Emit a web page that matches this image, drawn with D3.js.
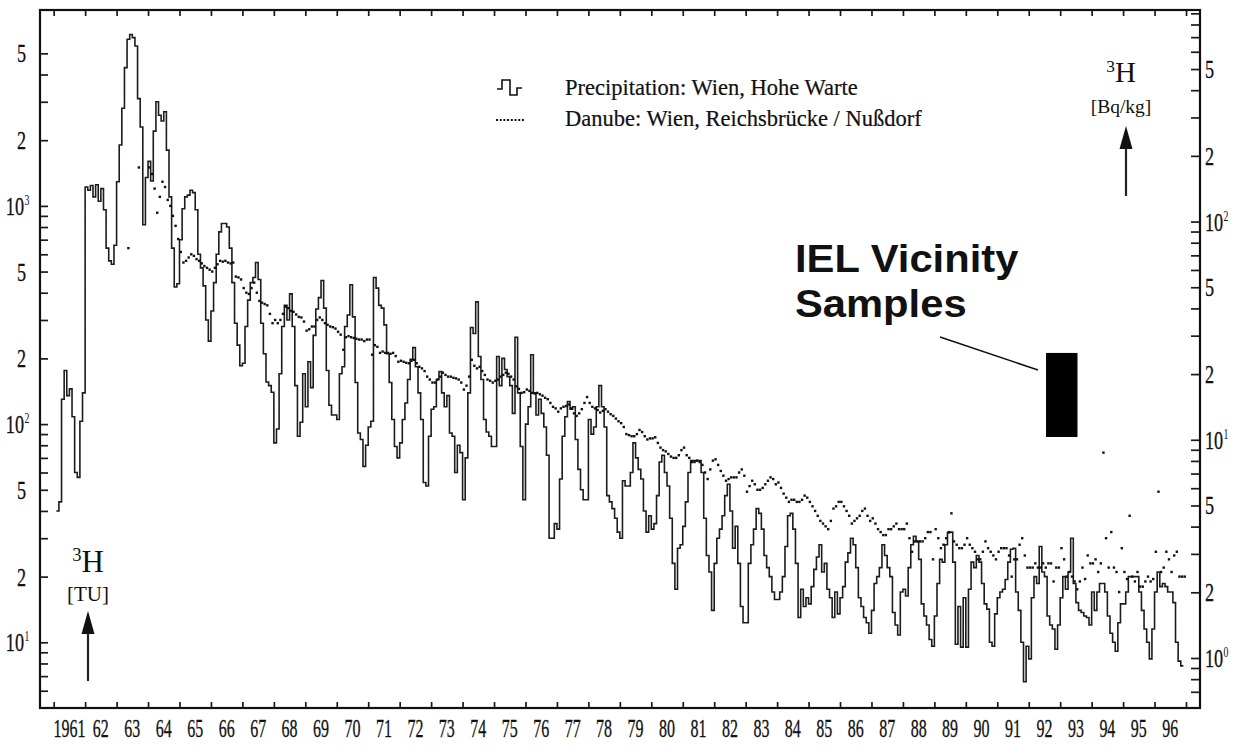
<!DOCTYPE html>
<html><head><meta charset="utf-8">
<script src="https://cdn.jsdelivr.net/npm/d3@7"></script>
<style>
html,body{margin:0;padding:0;background:#fff;}
svg{display:block;}
text{font-family:"Liberation Serif","Times New Roman",serif;fill:#111;}
</style></head><body>
<svg id="chart" width="1237" height="747"></svg>
<script>
// ---------- tick labels ----------
const yearLabels = ["1961","62","63","64","65","66","67","68","69","70","71","72","73","74","75","76","77","78","79","80","81","82","83","84","85","86","87","88","89","90","91","92","93","94","95","96"];
const firstYear = 1961;
const leftLabelValues = [5000, 2000, 1000, 500, 200, 100, 50, 20, 10];
const leftLabelTexts  = [["5",""],["2",""],["10","3"],["5",""],["2",""],["10","2"],["5",""],["2",""],["10","1"]];
const rightLabelValues = [500, 200, 100, 50, 20, 10, 5, 2, 1];
const rightLabelTexts  = [["5",""],["2",""],["10","2"],["5",""],["2",""],["10","1"],["5",""],["2",""],["10","0"]];
const tuToBq = 0.118;

// ---------- series: Precipitation Wien, Hohe Warte (monthly TU, from Feb 1961) ----------
const precipStartYear = 1961, precipStartMonth = 1;
const precipTU = [
  40, 44, 130, 176, 135, 145, 108, 60, 57, 103, 139,                 // 1961 Feb-Dec
  1220, 1180, 1240, 1100, 1250, 1050, 1200, 960, 640, 560, 540, 660,  // 1962
  1290, 1900, 2800, 4300, 5800, 6100, 5900, 5400, 3100, 2300, 820, 1350, // 1963
  1600, 1300, 2200, 3000, 2600, 2450, 2700, 1800, 1100, 640, 425, 440, // 1964
  700, 970, 1100, 1120, 1180, 1150, 960, 600, 520, 430, 300, 240,     // 1965
  330, 445, 600, 760, 830, 830, 800, 640, 445, 290, 230, 185,         // 1966
  190, 280, 370, 445, 470, 550, 460, 290, 210, 156, 150, 140,         // 1967
  82, 95, 170, 280, 350, 300, 395, 280, 150, 88, 102, 170,            // 1968
  120, 193, 147, 255, 337, 380, 455, 340, 176, 122, 110, 110,         // 1969
  105, 170, 183, 280, 316, 435, 310, 155, 91, 85, 64, 80,             // 1970
  97, 103, 470, 420, 350, 340, 285, 210, 155, 105, 79, 70,            // 1971
  82, 105, 125, 160, 198, 224, 183, 139, 105, 54, 52, 88,             // 1972
  117, 120, 160, 174, 139, 120, 135, 91, 88, 60, 80, 74,              // 1973
  45, 70, 139, 277, 260, 363, 204, 160, 105, 92, 88, 79,              // 1974
  79, 204, 150, 200, 178, 165, 150, 112, 250, 139, 79, 45,            // 1975
  100, 120, 208, 139, 110, 130, 112, 97, 72, 30, 30, 35,              // 1976
  33, 56, 88, 108, 127, 117, 120, 85, 62, 50, 45, 45,                 // 1977
  105, 90, 97, 120, 150, 120, 97, 47, 44, 41, 37, 32,                 // 1978
  30, 55, 52, 52, 60, 82, 70, 62, 56, 40, 32, 38,                     // 1979
  33, 35, 47, 67, 72, 60, 52, 37, 23, 17.5, 27, 28,                   // 1980
  34, 44, 60, 68, 68, 68, 68, 60, 37, 25, 21, 14,                     // 1981
  23, 30, 33, 38, 47, 53, 40, 27, 34, 23, 14.6, 12.3,                 // 1982
  12.3, 23, 28, 33, 41, 39, 33, 25, 22, 20, 17, 15.7,                 // 1983
  15.7, 17, 20, 27.5, 38, 39, 33, 23, 13, 17.5, 14.6, 16,             // 1984
  15, 18, 21.6, 24.6, 28, 21, 23, 17.5, 16, 13, 17, 13.5,             // 1985
  16, 18, 23.3, 25.7, 30, 28, 22, 16, 14.6, 13, 12.3, 11,             // 1986
  14, 18.6, 20, 22, 28, 25, 22, 20, 13.7, 12, 10.8, 17,               // 1987
  17.5, 16.3, 22, 28, 30.6, 29, 24, 15, 13.2, 12, 10.3, 9.6,          // 1988
  13.2, 18.6, 24, 23.3, 28, 31.8, 32, 23.3, 9.8, 14.6, 9.5, 16,       // 1989
  9.5, 17.5, 23.3, 22, 25, 23.3, 18.6, 15, 14.2, 10, 9.6, 13.5,       // 1990
  16, 17, 17.5, 19.4, 23.3, 26.7, 27, 17, 14, 10, 6.6, 9.6,           // 1991
  8.4, 16, 20, 18.6, 27.5, 21, 20, 13.2, 12, 11.5, 9.3, 12,           // 1992
  16, 20, 17.5, 21, 30, 18.6, 15.2, 14, 13.7, 13.2, 13, 12,           // 1993
  17, 14, 17, 18.6, 18.6, 17, 13.2, 11, 10, 9.1, 12.3, 15,            // 1994
  15, 17, 20, 20, 20, 20, 17, 14, 11.5, 10, 8.4, 11.5,                // 1995
  17, 21, 18, 18.6, 18, 17, 17, 15.2, 10, 8.2, 7.8                    // 1996 Jan-Nov
];

// ---------- series: Danube Wien, Reichsbrücke / Nußdorf (monthly TU, from Jan 1963) ----------
const danubeStartYear = 1963;
const danubeTU = [
  null, null, null, null, 640, null, null, null, 1500, null, null, null, // 1963
  1500, 1400, 1200, 930, 1100, 1290, 1220, 1065, 1000, 900, 810, 705,   // 1964
  615, 550, 560, 580, 600, 590, 570, 560, 545, 530, 520, 510,           // 1965
  500, 520, 540, 560, 555, 560, 550, 545, 550, 474, 470, 460,           // 1966
  420, 400, 395, 420, 445, 400, 367, 360, 355, 350, 320, 290,           // 1967
  300, 290, 300, 320, 345, 340, 330, 327, 318, 310, 308, 295,           // 1968
  268, 272, 280, 280, 300, 308, 300, 290, 285, 280, 278, 274,           // 1969
  265, 257, 219, 250, 253, 250, 248, 246, 244, 244, 240, 244,           // 1970
  244, 208, 230, 226, 212, 215, 212, 212, 210, 212, 205, 193,           // 1971
  195, 193, 191, 190, 195, 197, 190, 183, 180, 175, 165, 160,           // 1972
  155, 155, 160, 165, 172, 168, 165, 165, 163, 162, 160, 155,           // 1973
  144, 150, 165, 197, 185, 180, 183, 175, 168, 160, 158, 155,           // 1974
  158, 160, 165, 168, 172, 170, 165, 160, 149, 145, 139, 140,           // 1975
  144, 142, 139, 138, 139, 137, 135, 132, 130, 125, 120, 118,           // 1976
  114, 118, 120, 121, 123, 118, 112, 109, 112, 117, 125, 133,           // 1977
  125, 120, 118, 116, 113, 115, 117, 114, 111, 109, 106, 103,           // 1978
  101, 97, 90, 89, 88, 88, 90, 94, 92, 88, 85, 86,                      // 1979
  86, 87, 82, 78, 76, 75, 73, 71, 70, 70, 72, 76,                       // 1980
  78, 72, 70, 67, 67, 68, 67, 65, 60, 56, 62, 68,                       // 1981
  69, 65, 61, 58, 55, 56, 57, 57, 57, 60, 62, 58,                       // 1982
  49, 52, 55, 53, 50, 50, 51, 53, 55, 57, 56, 53,                       // 1983
  54, 51, 48, 46, 44, 45, 45, 44, 44, 45, 47, 46,                       // 1984
  44, 42, 40, 38, 36, 35, 34, 33, 36, 41, 42, 44,                       // 1985
  44, 42, 40, 38, 35, 36, 37, 38, 40, 41, 38, 36,                       // 1986
  37, 35, 33, 32, 31, 31, 33, 33, 34, 35, 33, 33,                       // 1987
  33, 35, 30, 26, 29, 29, 29, 29, 30, 32, 32, 24,                       // 1988
  33, 30, 27, 28, 30, 32, 39, 29, 28, 27, 27, 28,                       // 1989
  30, 28, 27, 26, 24, 24, 26, 29, 27, 26, 25, 24,                       // 1990
  26, 27, 27, 27, 25, 20, 24, 24, 28, 30, 25, 22,                       // 1991
  22, 22, 23, 22, 22, 23, 22, 23, 23, 19, 22, 22,                       // 1992
  27, 24, 20, 21, 20, 19, 17.5, 19, 22, 19.5, 25, 23,                   // 1993
  23, 24, 21, 23, 74, 30, 22, 32, 22, 21, 17, 27,                       // 1994
  21, 19.5, 38, 20, 19, 21, 18, 18, 19, 20, 19, 19.5,                   // 1995
  26, 49, 21, 22, 26, 24, 21, 25, 26, 20, 20, 20                        // 1996
];

// ---------- annotation texts ----------
const legendTexts = ["Precipitation: Wien, Hohe Warte", "Danube: Wien, Reichsbrücke / Nußdorf"];
const calloutLines = ["IEL Vicinity", "Samples"];
const ielRangeBq = [10.3, 25];   // black box, right axis units
const ielYears = [1992.55, 1993.55];

// ---------- layout ----------
const svg = d3.select("#chart");
const L = 40, R = 1200, T = 10, B = 708;
const x = d3.scaleLinear().domain([1960.565, 1997.445]).range([L, R]);
const y = d3.scaleLog().domain([5, 7900]).range([B, T]);
const yR = d3.scaleLog().domain([5 * tuToBq, 7900 * tuToBq]).range([B, T]);

// ticks
const leftTicks = [];
[1, 10, 100, 1000].forEach(d => { for (let k = 1; k <= 9; k++) { const v = k * d; if (v > 5.5 && v <= 5000) leftTicks.push(v); } });
const rightTicks = [];
[0.1, 1, 10, 100].forEach(d => { for (let k = 1; k <= 9; k++) { const v = k * d; if (v > 0.65 && v <= 920) rightTicks.push(v); } });
const yearTicks = d3.range(firstYear, firstYear + yearLabels.length + 1);

function styleAxis(g) {
  g.select(".domain").remove();
  g.selectAll("line").attr("stroke", "#1a1a1a").attr("stroke-width", 1.7);
}
svg.append("g").attr("transform", `translate(${L},0)`)
  .call(d3.axisLeft(y).tickValues(leftTicks).tickSize(-8).tickFormat("")).call(styleAxis);
svg.append("g").attr("transform", `translate(${R},0)`)
  .call(d3.axisRight(yR).tickValues(rightTicks).tickSize(-9).tickFormat("")).call(styleAxis);
svg.append("g").attr("transform", `translate(0,${B})`)
  .call(d3.axisBottom(x).tickValues(yearTicks).tickSize(-6).tickFormat("")).call(styleAxis);
svg.append("g").attr("transform", `translate(0,${T})`)
  .call(d3.axisTop(x).tickValues(yearTicks).tickSize(-6).tickFormat("")).call(styleAxis);

// frame
svg.append("rect").attr("x", L).attr("y", T).attr("width", R - L).attr("height", B - T)
  .attr("fill", "none").attr("stroke", "#111").attr("stroke-width", 2.2);

// year labels (tall, narrow serif as in the scan)
const sx = 0.64;
yearLabels.forEach((lab, i) => {
  svg.append("text")
    .attr("transform", `translate(${x(firstYear + i + 0.5)},737) scale(${sx},1)`)
    .attr("text-anchor", "middle").attr("font-size", 25)
    .attr("stroke", "#111").attr("stroke-width", 0.3).text(lab);
});

// left labels
leftLabelValues.forEach((v, i) => {
  const [base, sup] = leftLabelTexts[i];
  svg.append("text")
    .attr("transform", `translate(${sup ? 24 : 26},${y(v) + 9}) scale(0.7,1)`)
    .attr("text-anchor", "end").attr("font-size", 26)
    .attr("stroke", "#111").attr("stroke-width", 0.3).text(base);
  if (sup) {
    svg.append("text").attr("transform", `translate(24.5,${y(v) - 1}) scale(0.7,1)`)
      .attr("font-size", 14).text(sup);
  }
});
// right labels
rightLabelValues.forEach((v, i) => {
  const [base, sup] = rightLabelTexts[i];
  svg.append("text")
    .attr("transform", `translate(1205,${yR(v) + 9}) scale(0.7,1)`)
    .attr("font-size", 26).attr("stroke", "#111").attr("stroke-width", 0.3).text(base);
  if (sup) {
    svg.append("text").attr("transform", `translate(${1205 + 18.5},${yR(v) - 1}) scale(0.7,1)`)
      .attr("font-size", 14).text(sup);
  }
});

// precipitation step line
const precipPts = precipTU.map((v, i) => ({ t: precipStartYear + (precipStartMonth + i) / 12, v }));
precipPts.push({ t: precipPts[precipPts.length - 1].t + 1 / 12, v: precipTU[precipTU.length - 1] });
svg.append("path").datum(precipPts)
  .attr("fill", "none").attr("stroke", "#1c1c1c").attr("stroke-width", 1.6)
  .attr("d", d3.line().x(d => x(d.t)).y(d => y(d.v)).curve(d3.curveStepAfter));

// danube dots
const danubePts = danubeTU.map((v, i) => ({ t: danubeStartYear + (i + 0.5) / 12, v })).filter(d => d.v != null);
svg.append("g").selectAll("rect").data(danubePts).join("rect")
  .attr("x", d => x(d.t) - 1.2).attr("y", d => y(d.v) - 1.2)
  .attr("width", 2.4).attr("height", 2.4).attr("fill", "#111");

// legend
const lg = svg.append("g");
lg.append("path").attr("d", "M497,89 h5 v-9 h8 v15 h7 v-7 h5")
  .attr("fill", "none").attr("stroke", "#111").attr("stroke-width", 1.6);
d3.range(0, 8).forEach(k => lg.append("rect").attr("x", 496 + k * 3.7).attr("y", 119).attr("width", 2).attr("height", 2).attr("fill", "#111"));
lg.append("text").attr("x", 565).attr("y", 95).attr("font-size", 22.5).attr("stroke", "#111").attr("stroke-width", 0.2).text(legendTexts[0]);
lg.append("text").attr("x", 565).attr("y", 126).attr("font-size", 22.5).attr("stroke", "#111").attr("stroke-width", 0.2).text(legendTexts[1]);

// axis titles
function unitTitle(cx, yH, unit, fsH, fsU, yU) {
  const t = svg.append("text").attr("x", cx).attr("y", yH).attr("text-anchor", "middle").attr("font-size", fsH);
  t.append("tspan").attr("font-size", fsH * 0.6).attr("dy", -fsH * 0.35).text("3");
  t.append("tspan").attr("dy", fsH * 0.35).text("H");
  svg.append("text").attr("x", cx).attr("y", yU).attr("text-anchor", "middle").attr("font-size", fsU).text(unit);
}
unitTitle(88, 572, "[TU]", 31, 21, 601);
unitTitle(1121, 82, "[Bq/kg]", 29, 19.5, 113);

function arrow(cx, yTip, yHeadBase, yEnd) {
  svg.append("line").attr("x1", cx).attr("x2", cx).attr("y1", yHeadBase).attr("y2", yEnd)
    .attr("stroke", "#222").attr("stroke-width", 2.2);
  svg.append("path").attr("d", `M${cx},${yTip} L${cx - 6.5},${yHeadBase} L${cx + 6.5},${yHeadBase} Z`).attr("fill", "#111");
}
arrow(88, 611, 634, 681);
arrow(1126, 126, 149, 196);

// IEL callout (slightly widened bold sans, two lines)
const ann = svg.append("g");
const calloutFont = "'Liberation Sans', Arial, sans-serif";
calloutLines.forEach((s, i) => ann.append("text")
  .attr("transform", `translate(795,${272 + i * 45}) scale(1.07,1)`)
  .style("font-family", calloutFont).attr("font-weight", "bold")
  .attr("font-size", 39).text(s));
ann.append("line").attr("x1", 940).attr("y1", 337).attr("x2", 1038).attr("y2", 370)
  .attr("stroke", "#111").attr("stroke-width", 1.6);
ann.append("rect").attr("x", x(ielYears[0])).attr("y", yR(ielRangeBq[1]))
  .attr("width", x(ielYears[1]) - x(ielYears[0])).attr("height", yR(ielRangeBq[0]) - yR(ielRangeBq[1]))
  .attr("fill", "#000");
</script>
</body></html>
